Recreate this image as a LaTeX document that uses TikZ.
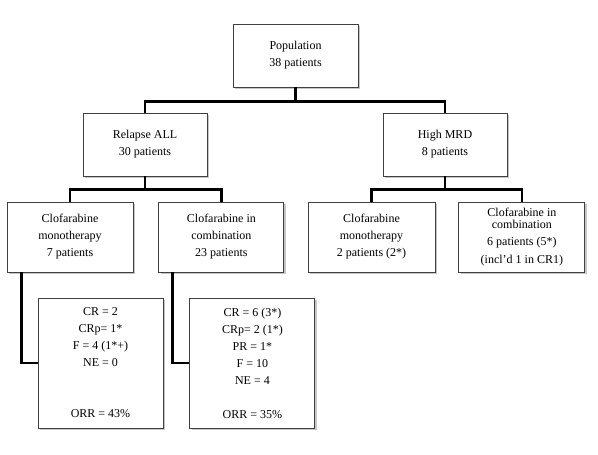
\documentclass[tikz,border=0pt]{standalone}
\usepackage{fontspec}
\setmainfont{Liberation Serif}
\usetikzlibrary{positioning,shadows}

\begin{document}
\begin{tikzpicture}[x=1pt, y=-1pt,
	graybox/.style={rectangle, draw=black!75, fill=white, line width=0.9pt, align=center, inner sep=2pt, font=\fontsize{12}{17}\selectfont, drop shadow={shadow xshift=1.8pt, shadow yshift=-1.8pt, opacity=0.45}},
	link/.style={line width=2.6pt, black},
	]
	\useasboundingbox (0,0) rectangle (598,455);
	%Nodes
	\node[graybox](pop)[minimum width=125pt, minimum height=63pt] at (295.5,55.5){Population\\38 patients};

	\node[graybox](rel)[minimum width=124pt, minimum height=63pt] at (145,144.5){Relapse ALL\\30 patients};
	\node[graybox](mrd)[minimum width=124pt, minimum height=63pt] at (445,144.5){High MRD\\8 patients};

	\node[graybox](mono1)[minimum width=126pt, minimum height=70pt] at (70,237){Clofarabine\\monotherapy\\7 patients};
	\node[graybox](comb1)[minimum width=125pt, minimum height=70pt, right=25pt of mono1]{Clofarabine in\\combination\\23 patients};
	\node[graybox](mono2)[minimum width=127pt, minimum height=70pt] at (371.5,237){Clofarabine\\monotherapy\\2 patients (2*)};
	\node[graybox](comb2)[minimum width=126pt, minimum height=70pt, right=23pt of mono2]{Clofarabine in\\[-5pt]combination\\6 patients (5*)\\[1pt](incl’d 1 in CR1)};

	\node[graybox](res1)[minimum width=125pt, minimum height=130pt] at (100.5,363){CR = 2\\CRp= 1*\\F = 4 (1*+)\\NE = 0\\[34pt]ORR = 43\%};
	\node[graybox](res2)[minimum width=125pt, minimum height=130pt, right=26pt of res1]{CR = 6 (3*)\\CRp= 2 (1*)\\PR = 1*\\F = 10\\NE = 4\\[17pt]ORR = 35\%};

	%Lines
	\draw[link] (pop.south) -- ++(0,15);
	\draw[link] (rel.north) -- ++(0,-11) -| (mrd.north);
	\draw[link] (rel.south) -- ++(0,14);
	\draw[link] (mono1.north) -- ++(0,-12) -| (comb1.north);
	\draw[link] (mrd.south) -- ++(0,14);
	\draw[link] (mono2.north) -- ++(0,-12) -| (comb2.north);
	\draw[link] ([xshift=15pt]mono1.south west) |- (res1.west);
	\draw[link] ([xshift=14pt]comb1.south west) |- (res2.west);

\end{tikzpicture}
\end{document}
